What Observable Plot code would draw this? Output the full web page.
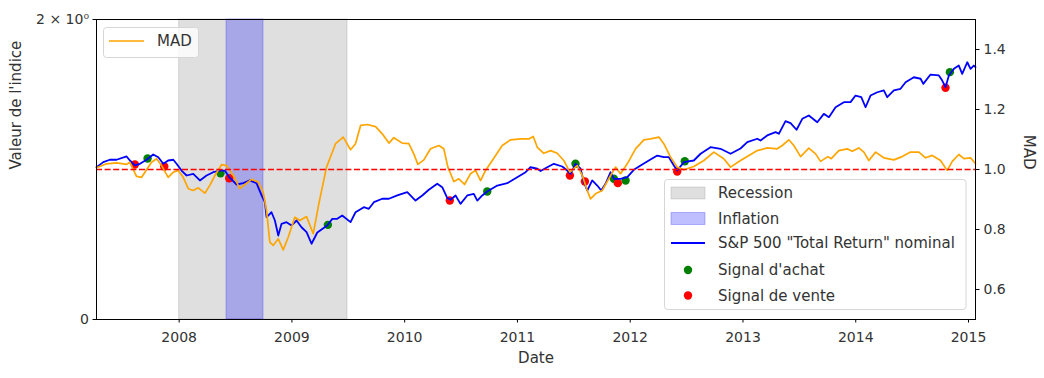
<!DOCTYPE html>
<html><head><meta charset="utf-8">
<script src="https://cdn.jsdelivr.net/npm/d3@7"></script>
<script src="https://cdn.jsdelivr.net/npm/@observablehq/plot@0.6"></script>
<style>body{margin:0;background:#fff;}#chart svg{display:block;}</style>
</head><body><div id="chart"></div>
<script>
// ---------- data (years as decimal years) ----------
const xDomain = [2007.267, 2015.062];
const yearTicks = [2008, 2009, 2010, 2011, 2012, 2013, 2014, 2015];
const leftTickValues = [0, 2];
const leftTickLabels = ["0", "2 × 10⁰"];
const madTicks = [0.6, 0.8, 1.0, 1.2, 1.4];
const madDomain = [0.5, 1.5];
const madThreshold = [1.0];

const recessions = [{start: 2008.0, end: 2009.493}];
const inflations = [{start: 2008.42, end: 2008.748}];

// S&P 500 "Total Return" nominal, left axis units
const spSeries = [
[2007.267,1.015],[2007.327,1.049],[2007.385,1.065],[2007.445,1.065],[2007.534,1.087],[2007.563,1.060],
[2007.607,1.027],[2007.652,1.038],[2007.711,1.065],[2007.770,1.100],[2007.815,1.082],[2007.859,1.038],
[2007.903,1.060],[2007.948,1.065],[2007.977,1.038],[2008.021,0.993],[2008.066,0.960],[2008.125,0.971],
[2008.184,0.927],[2008.243,0.960],[2008.302,0.982],[2008.361,0.993],[2008.405,0.993],[2008.444,0.949],
[2008.509,0.900],[2008.568,0.909],[2008.627,0.927],[2008.686,0.909],[2008.731,0.827],[2008.760,0.782],
[2008.775,0.682],[2008.819,0.715],[2008.849,0.660],[2008.879,0.560],[2008.908,0.638],[2008.952,0.649],
[2008.997,0.627],[2009.041,0.660],[2009.085,0.615],[2009.130,0.582],[2009.174,0.505],[2009.225,0.580],
[2009.313,0.627],[2009.358,0.671],[2009.402,0.671],[2009.446,0.693],[2009.520,0.649],[2009.564,0.715],
[2009.638,0.749],[2009.682,0.738],[2009.727,0.782],[2009.801,0.805],[2009.860,0.805],[2009.934,0.827],
[2010.023,0.849],[2010.096,0.793],[2010.156,0.827],[2010.214,0.865],[2010.289,0.905],[2010.333,0.882],
[2010.377,0.811],[2010.407,0.798],[2010.451,0.827],[2010.495,0.771],[2010.555,0.827],[2010.613,0.838],
[2010.644,0.793],[2010.688,0.827],[2010.732,0.853],[2010.821,0.893],[2010.910,0.909],[2010.998,0.949],
[2011.072,0.982],[2011.116,1.015],[2011.176,1.005],[2011.205,0.990],[2011.264,1.015],[2011.323,1.038],
[2011.397,1.020],[2011.442,0.993],[2011.471,0.971],[2011.515,1.038],[2011.560,1.005],[2011.589,0.915],
[2011.619,0.860],[2011.663,0.927],[2011.708,0.893],[2011.743,0.860],[2011.781,0.905],[2011.826,0.982],
[2011.855,0.938],[2011.914,0.938],[2011.974,0.949],[2012.032,0.998],[2012.092,1.027],[2012.165,1.060],
[2012.240,1.093],[2012.298,1.082],[2012.343,1.082],[2012.387,1.027],[2012.417,0.993],[2012.476,1.049],
[2012.564,1.060],[2012.624,1.105],[2012.712,1.149],[2012.801,1.138],[2012.890,1.105],[2012.978,1.140],
[2013.038,1.182],[2013.127,1.205],[2013.156,1.193],[2013.215,1.227],[2013.289,1.249],[2013.318,1.238],
[2013.377,1.322],[2013.422,1.309],[2013.475,1.265],[2013.526,1.338],[2013.584,1.360],[2013.659,1.315],
[2013.717,1.371],[2013.762,1.349],[2013.821,1.415],[2013.895,1.449],[2013.954,1.449],[2013.998,1.493],
[2014.049,1.482],[2014.087,1.415],[2014.131,1.493],[2014.191,1.515],[2014.249,1.527],[2014.279,1.482],
[2014.338,1.527],[2014.397,1.538],[2014.442,1.582],[2014.515,1.615],[2014.575,1.605],[2014.599,1.571],
[2014.663,1.633],[2014.737,1.627],[2014.767,1.593],[2014.796,1.549],[2014.826,1.627],[2014.870,1.671],
[2014.914,1.693],[2014.944,1.638],[2014.989,1.715],[2015.018,1.671],[2015.047,1.693],[2015.062,1.682]
];

// MAD, right axis units
const madSeries = [
[2007.267,1.006],[2007.356,1.019],[2007.445,1.022],[2007.534,1.017],[2007.563,1.024],[2007.622,0.977],
[2007.667,0.974],[2007.711,0.999],[2007.755,1.024],[2007.800,1.036],[2007.844,1.013],[2007.903,0.974],
[2007.948,0.991],[2007.992,0.997],[2008.036,0.974],[2008.081,0.936],[2008.125,0.930],[2008.169,0.939],
[2008.228,0.921],[2008.272,0.947],[2008.317,0.980],[2008.376,1.016],[2008.420,1.013],[2008.480,0.980],
[2008.538,0.936],[2008.583,0.950],[2008.642,0.967],[2008.701,0.958],[2008.746,0.924],[2008.775,0.863],
[2008.804,0.758],[2008.834,0.747],[2008.879,0.769],[2008.923,0.732],[2008.967,0.774],[2009.026,0.841],
[2009.070,0.830],[2009.130,0.843],[2009.189,0.786],[2009.239,0.886],[2009.307,1.008],[2009.387,1.086],
[2009.455,1.108],[2009.520,1.066],[2009.564,1.086],[2009.609,1.147],[2009.668,1.150],[2009.742,1.143],
[2009.801,1.119],[2009.860,1.088],[2009.904,1.106],[2009.978,1.088],[2010.037,1.086],[2010.081,1.052],
[2010.117,1.017],[2010.170,1.032],[2010.229,1.069],[2010.303,1.080],[2010.347,1.069],[2010.383,1.008],
[2010.436,0.960],[2010.480,0.969],[2010.531,0.950],[2010.584,0.986],[2010.628,0.997],[2010.673,0.963],
[2010.717,0.997],[2010.777,1.030],[2010.865,1.080],[2010.939,1.099],[2011.027,1.102],[2011.101,1.102],
[2011.140,1.110],[2011.176,1.074],[2011.234,1.054],[2011.294,1.063],[2011.353,1.054],[2011.411,1.030],
[2011.465,0.991],[2011.530,1.013],[2011.575,0.980],[2011.619,0.930],[2011.648,0.902],[2011.692,0.919],
[2011.752,0.930],[2011.826,0.980],[2011.870,1.008],[2011.914,0.986],[2011.974,1.019],[2012.047,1.069],
[2012.121,1.099],[2012.180,1.102],[2012.254,1.108],[2012.298,1.086],[2012.358,1.041],[2012.417,1.008],
[2012.476,0.999],[2012.564,1.010],[2012.653,1.030],[2012.742,1.058],[2012.830,1.036],[2012.890,1.008],
[2012.978,1.030],[2013.038,1.043],[2013.127,1.063],[2013.215,1.072],[2013.304,1.069],[2013.348,1.080],
[2013.407,1.099],[2013.451,1.080],[2013.511,1.043],[2013.584,1.071],[2013.644,1.052],[2013.688,1.027],
[2013.753,1.043],[2013.783,1.036],[2013.850,1.063],[2013.925,1.069],[2013.969,1.061],[2014.027,1.072],
[2014.072,1.058],[2014.116,1.030],[2014.176,1.058],[2014.249,1.039],[2014.338,1.032],[2014.412,1.043],
[2014.486,1.058],[2014.560,1.058],[2014.619,1.039],[2014.678,1.047],[2014.752,1.030],[2014.811,0.997],
[2014.856,1.027],[2014.914,1.050],[2014.959,1.036],[2015.018,1.039],[2015.062,1.019]
];

// trading signals (left axis units)
const buySignals = [
[2007.720,1.073],[2008.367,0.975],[2009.319,0.631],[2010.732,0.853],[2011.515,1.038],
[2011.855,0.938],[2011.959,0.927],[2012.484,1.055],[2014.835,1.649]
];
const sellSignals = [
[2007.607,1.033],[2007.868,1.020],[2008.444,0.942],[2010.400,0.793],[2011.465,0.960],
[2011.598,0.920],[2011.890,0.909],[2012.417,0.987],[2014.796,1.545]
];

// ---------- rendering ----------
const FONT = "DejaVu Sans, sans-serif";
const TEXT = "#333";
// the left axis (0 .. 2) and the right MAD axis (0.5 .. 1.5) share the frame
const leftToFrame = v => madDomain[0] + (v - leftTickValues[0]) / (leftTickValues[1] - leftTickValues[0]) * (madDomain[1] - madDomain[0]);
const toObj = ([t, v]) => ({t, v});
const sp = spSeries.map(toObj), mad = madSeries.map(toObj);
const buys = buySignals.map(toObj), sells = sellSignals.map(toObj);
const leftLabelByPos = new Map(leftTickValues.map((v, i) => [leftToFrame(v), leftTickLabels[i]]));

const chart = Plot.plot({
  width: 1044, height: 378,
  marginLeft: 96, marginRight: 69, marginTop: 19, marginBottom: 59,
  style: {fontFamily: FONT, fontSize: "14px", color: TEXT, background: "#fff", overflow: "visible"},
  x: {domain: xDomain, axis: null},
  y: {domain: madDomain, axis: null},
  marks: [
    Plot.rect(recessions, {x1: "start", x2: "end", fill: "gray", fillOpacity: 0.25, stroke: "gray", strokeOpacity: 0.25}),
    Plot.rect(inflations, {x1: "start", x2: "end", fill: "blue", fillOpacity: 0.25, stroke: "blue", strokeOpacity: 0.25}),
    Plot.dot(buys, {x: "t", y: d => leftToFrame(d.v), r: 4.2, fill: "green", stroke: "none"}),
    Plot.dot(sells, {x: "t", y: d => leftToFrame(d.v), r: 4.2, fill: "red", stroke: "none"}),
    Plot.line(sp, {x: "t", y: d => leftToFrame(d.v), stroke: "blue", strokeWidth: 1.8}),
    Plot.line(mad, {x: "t", y: "v", stroke: "orange", strokeWidth: 1.7}),
    Plot.ruleY(madThreshold, {stroke: "red", strokeWidth: 1.7, strokeDasharray: "6,2.6"}),
    Plot.axisX(yearTicks, {anchor: "bottom", tickSize: 3.5, tickPadding: 9, tickFormat: d => String(d), label: null, fontSize: 14, fill: TEXT, stroke: "black"}),
    Plot.axisY([...leftLabelByPos.keys()], {anchor: "left", tickSize: 3.5, tickPadding: 4, tickFormat: d => leftLabelByPos.get(d), label: null, fontSize: 14, fill: TEXT, stroke: "black"}),
    Plot.axisY(madTicks, {anchor: "right", tickSize: 3.5, tickPadding: 4.5, tickFormat: d3.format(".1f"), label: null, fontSize: 14, fill: TEXT, stroke: "black"}),
    Plot.frame({stroke: "black", strokeWidth: 1}),
    Plot.text(["Date"], {frameAnchor: "bottom", dy: 43, fontSize: 15, fill: TEXT}),
    Plot.text(["Valeur de l'indice"], {frameAnchor: "left", dx: -80, rotate: -90, fontSize: 15, fill: TEXT}),
    Plot.text(["MAD"], {frameAnchor: "right", dx: 53, rotate: 90, fontSize: 15, fill: TEXT})
  ]
});
document.getElementById("chart").appendChild(chart);

// ---------- legends ----------
const svg = d3.select(chart);
function legendBox(g, x, y, w, h) {
  g.append("rect").attr("x", x).attr("y", y).attr("width", w).attr("height", h)
    .attr("rx", 3).attr("fill", "white").attr("fill-opacity", 0.8)
    .attr("stroke", "#d6d6d6").attr("stroke-width", 1);
}
const madLegend = svg.append("g").attr("font-family", FONT).attr("font-size", 15).attr("fill", TEXT).attr("text-anchor", "start");
legendBox(madLegend, 103.5, 27.5, 95, 30);
madLegend.append("line").attr("x1", 109).attr("x2", 144).attr("y1", 41).attr("y2", 41).attr("stroke", "orange").attr("stroke-width", 1.7);
madLegend.append("text").attr("x", 157).attr("y", 41).attr("dy", "0.35em").attr("text-anchor", "start").text("MAD");

const mainItems = [
  {label: "Recession", kind: "patch", color: "gray", y: 193},
  {label: "Inflation", kind: "patch", color: "blue", y: 218.5},
  {label: "S&P 500 \"Total Return\" nominal", kind: "line", color: "blue", y: 243},
  {label: "Signal d'achat", kind: "dot", color: "green", y: 270},
  {label: "Signal de vente", kind: "dot", color: "red", y: 295.5}
];
const mainLegend = svg.append("g").attr("font-family", FONT).attr("font-size", 15).attr("fill", TEXT).attr("text-anchor", "start");
legendBox(mainLegend, 664.5, 179.5, 301.5, 130);
for (const it of mainItems) {
  if (it.kind === "patch") {
    mainLegend.append("rect").attr("x", 671).attr("y", it.y - 6).attr("width", 34).attr("height", 12)
      .attr("fill", it.color).attr("fill-opacity", 0.25).attr("stroke", it.color).attr("stroke-opacity", 0.25);
  } else if (it.kind === "line") {
    mainLegend.append("line").attr("x1", 671).attr("x2", 705).attr("y1", it.y).attr("y2", it.y).attr("stroke", it.color).attr("stroke-width", 1.8);
  } else {
    mainLegend.append("circle").attr("cx", 688).attr("cy", it.y).attr("r", 4.2).attr("fill", it.color);
  }
  mainLegend.append("text").attr("x", 718).attr("y", it.y).attr("dy", "0.35em").attr("text-anchor", "start").text(it.label);
}
</script>
</body></html>
